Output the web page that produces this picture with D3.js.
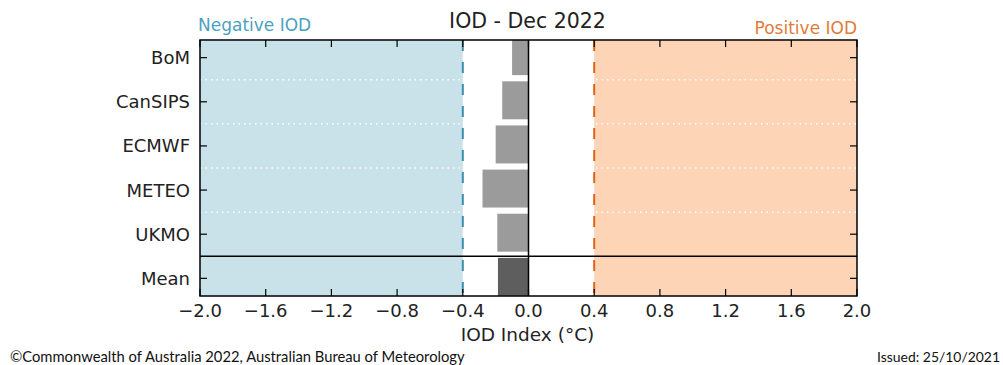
<!DOCTYPE html>
<html><head><meta charset="utf-8">
<script src="https://cdn.jsdelivr.net/npm/d3@7"></script>
<style>body{margin:0;background:#fff}svg{display:block}</style>
</head><body>
<script>
const models = ["BoM","CanSIPS","ECMWF","METEO","UKMO","Mean"];
const values = [-0.10,-0.16,-0.20,-0.28,-0.19,-0.186];
const xTicks = [-2.0,-1.6,-1.2,-0.8,-0.4,0.0,0.4,0.8,1.2,1.6,2.0];
const thresholds = [-0.4, 0.4];
const xDomain = [-2, 2];

const W=1003,H=365;
const m={l:200,r:857,t:40,b:296};
const svg=d3.select("body").append("svg").attr("width",W).attr("height",H);
const x=d3.scaleLinear().domain(xDomain).range([m.l,m.r]);
const y=d3.scaleLinear().domain([-0.4,5.4]).range([m.t,m.b]);
const font="DejaVu Sans";

const g=svg.append("g");
g.append("defs").append("clipPath").attr("id","clip").append("rect")
 .attr("x",m.l).attr("y",m.t).attr("width",m.r-m.l).attr("height",m.b-m.t);
const p=g.append("g").attr("clip-path","url(#clip)");
// shaded regions
p.append("rect").attr("x",x(xDomain[0])).attr("y",m.t).attr("width",x(thresholds[0])-x(xDomain[0])).attr("height",m.b-m.t).attr("fill","#c9e2e9");
p.append("rect").attr("x",x(thresholds[1])).attr("y",m.t).attr("width",x(xDomain[1])-x(thresholds[1])).attr("height",m.b-m.t).attr("fill","#fdd5b6");
// dotted separators
d3.range(0.5,4.5,1).forEach(v=>{
  p.append("line").attr("x1",m.l).attr("x2",m.r).attr("y1",y(v)).attr("y2",y(v))
   .attr("stroke","#fff").attr("stroke-width",1.5).attr("stroke-dasharray","1.5,4");
});
// bars
const bh=y(0.86)-y(0);
p.selectAll("rect.bar").data(values).join("rect").attr("class","bar")
 .attr("x",d=>x(Math.min(0,d))).attr("width",d=>Math.abs(x(d)-x(0)))
 .attr("y",(d,i)=>y(i)-bh/2-1.5).attr("height",bh)
 .attr("fill",(d,i)=>models[i]==="Mean"?"#5e5e5e":"#9b9b9b");
// threshold dashed lines
p.append("line").attr("x1",x(thresholds[0])).attr("x2",x(thresholds[0])).attr("y1",m.t).attr("y2",m.b)
 .attr("stroke","#3a8eae").attr("stroke-width",2).attr("stroke-dasharray","11,11");
p.append("line").attr("x1",x(thresholds[1])).attr("x2",x(thresholds[1])).attr("y1",m.t).attr("y2",m.b)
 .attr("stroke","#e06216").attr("stroke-width",2).attr("stroke-dasharray","11,11");
// zero line
p.append("line").attr("x1",x(0)).attr("x2",x(0)).attr("y1",m.t).attr("y2",m.b).attr("stroke","#000").attr("stroke-width",1.5);
// mean separator
p.append("line").attr("x1",m.l).attr("x2",m.r).attr("y1",y(4.5)).attr("y2",y(4.5)).attr("stroke","#000").attr("stroke-width",1.5);

// ticks
const tl=7;
xTicks.forEach(t=>{
  g.append("line").attr("x1",x(t)).attr("x2",x(t)).attr("y1",m.b).attr("y2",m.b-tl).attr("stroke","#000").attr("stroke-width",1.2);
  g.append("line").attr("x1",x(t)).attr("x2",x(t)).attr("y1",m.t).attr("y2",m.t+tl).attr("stroke","#000").attr("stroke-width",1.2);
  g.append("text").attr("x",x(t)).attr("y",316.5).attr("text-anchor","middle")
   .attr("font-family",font).attr("font-size",18).attr("fill","#222")
   .text(d3.format(".1f")(t).replace("-","\u2212"));
});
models.forEach((mname,i)=>{
  g.append("line").attr("x1",m.l).attr("x2",m.l+tl).attr("y1",y(i)).attr("y2",y(i)).attr("stroke","#000").attr("stroke-width",1.2);
  g.append("line").attr("x1",m.r).attr("x2",m.r-tl).attr("y1",y(i)).attr("y2",y(i)).attr("stroke","#000").attr("stroke-width",1.2);
  g.append("text").attr("x",190).attr("y",y(i)).attr("dy","0.36em").attr("text-anchor","end")
   .attr("font-family",font).attr("font-size",18).attr("fill","#222").text(mname);
});
// frame
g.append("rect").attr("x",m.l).attr("y",m.t).attr("width",m.r-m.l).attr("height",m.b-m.t)
 .attr("fill","none").attr("stroke","#000").attr("stroke-width",1.5);

// titles
svg.append("text").attr("x",527.5).attr("y",28.3).attr("text-anchor","middle")
 .attr("font-family",font).attr("font-size",20.5).attr("fill","#222").text("IOD - Dec 2022");
svg.append("text").attr("x",198).attr("y",30.7)
 .attr("font-family",font).attr("font-size",17).attr("fill","#4aa2c0").text("Negative IOD");
svg.append("text").attr("x",857).attr("y",34).attr("text-anchor","end")
 .attr("font-family",font).attr("font-size",17).attr("fill","#e07b3a").text("Positive IOD");
svg.append("text").attr("x",527.5).attr("y",340.5).attr("text-anchor","middle")
 .attr("font-family",font).attr("font-size",18.5).attr("fill","#222").text("IOD Index (\u00B0C)");

// footer
function fitText(sel,w){const l=sel.node().getComputedTextLength();const fs=+sel.attr("font-size");sel.attr("font-size",fs*w/l);}
const f1=svg.append("text").attr("x",10).attr("y",361.7).attr("font-family","Lato").attr("font-size",14).attr("fill","#111")
 .text("\u00A9Commonwealth of Australia 2022, Australian Bureau of Meteorology");
fitText(f1,455);
const f2=svg.append("text").attr("x",1000).attr("y",361.7).attr("text-anchor","end").attr("font-family","Lato").attr("font-size",14).attr("fill","#111")
 .text("Issued: 25/10/2021");
fitText(f2,123);
</script>
</body></html>
